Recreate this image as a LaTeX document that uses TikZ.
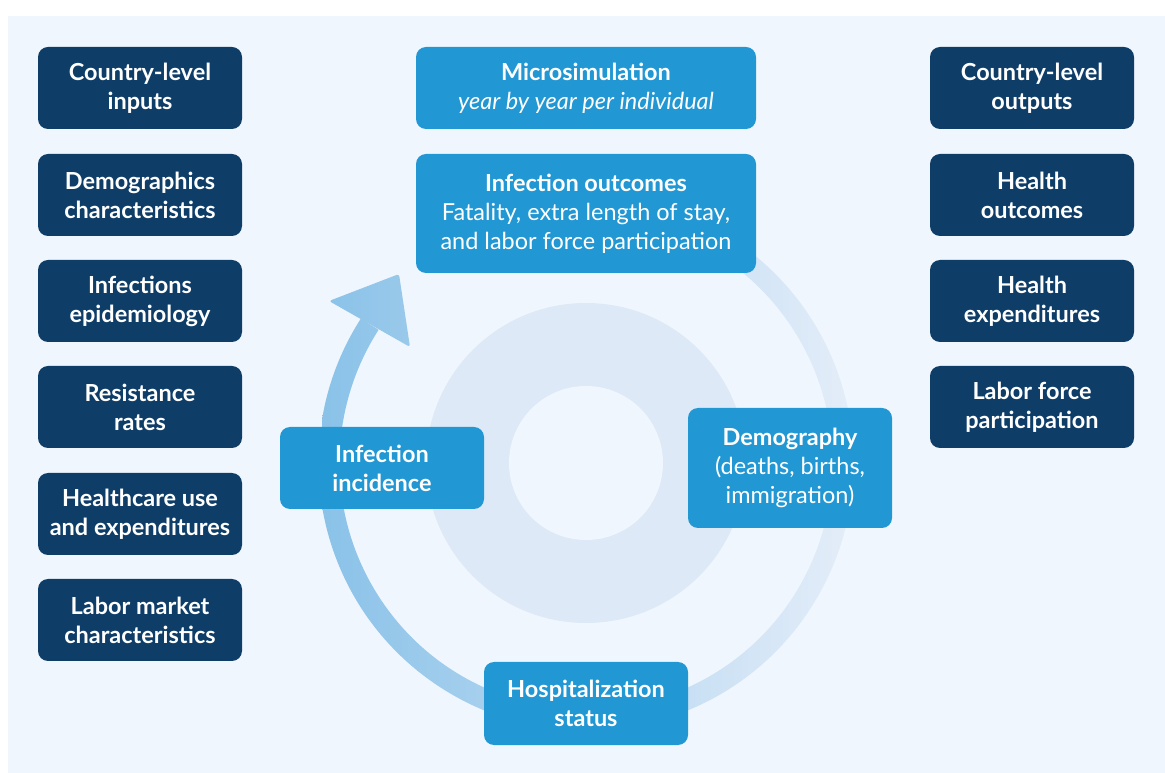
\documentclass[tikz,border=0pt]{standalone}
\usepackage{fontspec}
\setmainfont{Lato}
\usepackage{tikz}
\usetikzlibrary{calc}
\definecolor{inputNavy}{RGB}{14,61,104}
\definecolor{stageBlue}{RGB}{33,151,212}
\definecolor{panelBg}{RGB}{240,246,254}
\definecolor{discBlue}{RGB}{221,233,246}
\definecolor{ringLeft}{RGB}{138,194,232}
\definecolor{ringMid}{RGB}{198,220,242}
\definecolor{ringRight}{RGB}{228,237,249}

\begin{document}
\begin{tikzpicture}[x=0.75pt,y=-0.75pt,
  box/.style={rounded corners=7.5pt, text=white, align=center, inner sep=0pt,
    minimum width=153pt, minimum height=61.5pt},
  navybox/.style={box, fill=inputNavy, font=\fontsize{17.6}{21.75}\selectfont\bfseries},
  stagebox/.style={box, fill=stageBlue, font=\fontsize{17.6}{21.75}\selectfont},
  ringshade/.style={left color=ringLeft, middle color=ringMid, right color=ringRight}]
\useasboundingbox (0,0) rectangle (1165,773);
\fill[panelBg] (8,16) rectangle (1165,773);

% hub discs
\coordinate (hub) at (586,463);
\fill[discBlue] (hub) circle[radius=160];
\fill[panelBg] (hub) circle[radius=77];

% cycle arrow: band + head, one gradient for both
\begin{scope}
\clip (hub) ++(212.7:267.5) arc[start angle=212.7, end angle=-120, radius=267.5]
  -- ($(hub)+(-120:246.5)$) arc[start angle=-120, end angle=212.7, radius=246.5] -- cycle;
\shade[ringshade] (322,150) rectangle (850,760);
\end{scope}
\coordinate (headOut) at (329,301);
\coordinate (headTip) at (399,274);
\coordinate (headIn) at (410,347);
\begin{scope}
\clip[rounded corners=2pt] (headOut) -- (headTip) -- (headIn) -- cycle;
\shade[ringshade] (322,150) rectangle (850,760);
\end{scope}

% inputs column
\foreach \i/\y/\txt in {1/88/{Country-level\\inputs},
    2/195/{Demographics\\characteristics},
    3/301/{Infections\\epidemiology},
    4/407/{Resistance\\rates},
    5/514/{Healthcare use\\and expenditures},
    6/620/{Labor market\\characteristics}} {
  \node[navybox] (in\i) at (140,\y) {\txt};
}

% outputs column
\foreach \i/\y/\txt in {1/88/{Country-level\\outputs},
    2/195/{Health\\outcomes},
    3/301/{Health\\expenditures},
    4/407/{Labor force\\participation}} {
  \node[navybox] (out\i) at (1032,\y) {\txt};
}

% simulation stages
\node[stagebox, minimum width=255pt] (micro) at (586,88)
  {\textbf{Microsimulation}\\\textit{year by year per individual}};
\node[stagebox, minimum width=255pt, minimum height=89.25pt] (outcomes) at (586,213.5)
  {\textbf{Infection outcomes}\\Fatality, extra length of stay,\\and labor force participation};
\node[stagebox] (incidence) at (382,468) {\textbf{Infection}\\\textbf{incidence}};
\node[stagebox, minimum height=90pt] (demography) at (790,468)
  {\textbf{Demography}\\(deaths, births,\\immigration)};
\node[stagebox, minimum height=62.25pt] (hospital) at (586,703.5)
  {\textbf{Hospitalization}\\\textbf{status}};
\end{tikzpicture}
\end{document}
